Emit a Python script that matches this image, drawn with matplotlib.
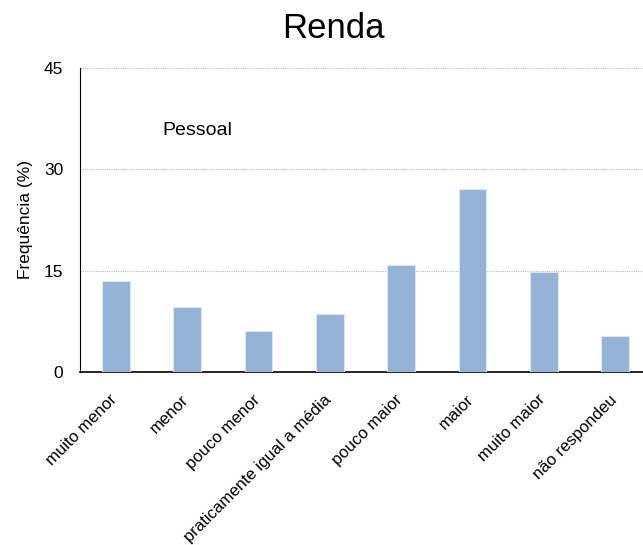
import matplotlib.pyplot as plt
from matplotlib.transforms import offset_copy
import numpy as np

plt.rcParams['font.family'] = ['Liberation Sans', 'DejaVu Sans']

# Distribuição da renda pessoal em relação à média
categorias = ['muito menor', 'menor', 'pouco menor', 'praticamente igual a média',
              'pouco maior', 'maior', 'muito maior', 'não respondeu']
frequencia = [13.5, 9.6, 6.0, 8.6, 15.9, 27.1, 14.8, 5.3]
yticks = [0, 15, 30, 45]

fig = plt.figure(figsize=(6.43, 5.45), dpi=100)
ax = fig.add_axes([0.1244, 0.3174, 0.888, 0.558])

x = np.arange(len(categorias))
ax.bar(x, frequencia, width=0.39, color='#95b3d7', edgecolor='#dce6f2', linewidth=0.8, zorder=3)

ax.set_xlim(-0.5, len(categorias) - 0.5)
ax.set_ylim(0, 45)
ax.set_yticks(yticks)
ax.set_yticklabels([str(v) for v in yticks], fontsize=12.5)
ax.yaxis.grid(True, linestyle=(0, (1, 1)), color='#b8b8b8', linewidth=0.8, zorder=0)
ax.tick_params(axis='y', length=0, pad=12)

# rotated category labels, anchored just under each bar
ax.set_xticks([])
lbl_trans = offset_copy(ax.get_xaxis_transform(), fig=fig, x=-6, y=-20, units='dots')
for i, nome in enumerate(categorias):
    ax.text(x[i], 0, nome, transform=lbl_trans, rotation=45, ha='right', va='top',
            rotation_mode='anchor', fontsize=12)

ax.set_ylabel('Frequência (%)', fontsize=12.5)
ax.yaxis.set_label_coords(-0.082, 0.5)

for side in ['top', 'right']:
    ax.spines[side].set_visible(False)
ax.spines['left'].set_color('black')
ax.spines['bottom'].set_color('black')
ax.spines['bottom'].set_linewidth(1.2)

ax.text(0.145, 0.78, 'Pessoal', transform=ax.transAxes, fontsize=14)
fig.text(0.519, 0.947, 'Renda', ha='center', va='center', fontsize=25)

fig.savefig('out.png', dpi=100)
